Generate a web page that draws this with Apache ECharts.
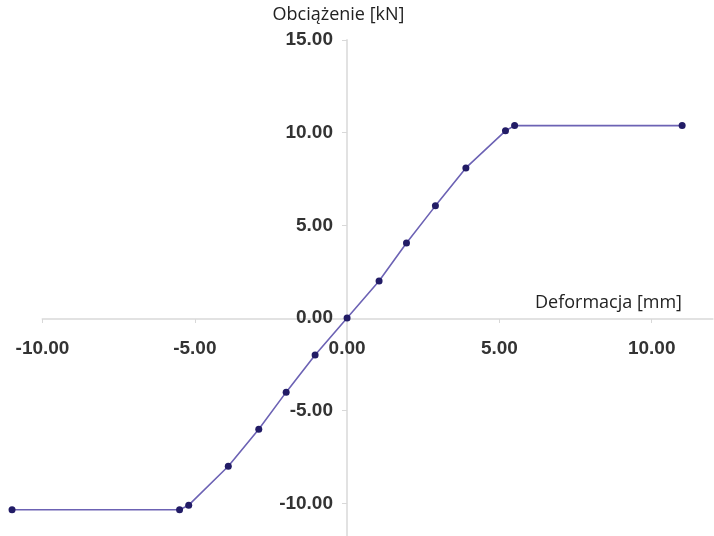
<!DOCTYPE html>
<html>
<head>
<meta charset="utf-8">
<script src="https://cdn.jsdelivr.net/npm/echarts@6/dist/echarts.min.js"></script>
<style>html,body{margin:0;padding:0;background:#fff}#c{width:714px;height:536px}</style>
</head>
<body>
<div id="c"></div>
<script>
const deformation = [-11, -5.5, -5.2, -3.9, -2.9, -2.0, -1.05, 0, 1.05, 1.95, 2.9, 3.9, 5.2, 5.5, 11];
const load = [-10.35, -10.35, -10.1, -8.0, -6.0, -4.0, -2.0, 0, 2.0, 4.05, 6.05, 8.1, 10.1, 10.38, 10.38];
const xTicks = [-10, -5, 0, 5, 10];
const yTicks = [-15, -10, -5, 0, 5, 10, 15];
const xName = 'Deformacja [mm]';
const yName = 'Obciążenie [kN]';

const chart = echarts.init(document.getElementById('c'));
const lblStyle = {fontFamily: 'Liberation Sans', fontSize: 19, color: '#333', fontWeight: 'bold'};
const PX = 30.46; // px per mm
const gLeft = 42.5, gRight = 1.4, gTop = 40, gBottom = -60;
chart.setOption({
  animation: false,
  grid: [
    {left: gLeft, right: gRight, top: gTop, bottom: gBottom, containLabel: false, outerBoundsMode: 'none'},
    {left: gLeft - 2 * PX, right: gRight, top: gTop, bottom: gBottom, containLabel: false, outerBoundsMode: 'none'}
  ],
  xAxis: [{
    gridIndex: 0, type: 'value', min: -10, max: 12, position: 'bottom', offset: -277,
    name: xName, nameLocation: 'end', nameGap: -30.6,
    nameTextStyle: {fontFamily: 'Open Sans', fontSize: 18, color: '#222', align: 'right', verticalAlign: 'bottom', padding: [0, 0, 7, 0]},
    axisLine: {onZero: false, lineStyle: {color: '#e2e2e2', width: 2}},
    axisTick: {show: true, length: 4, customValues: xTicks, lineStyle: {color: '#d8d8d8'}},
    axisLabel: Object.assign({customValues: xTicks, margin: 20, formatter: v => v.toFixed(2)}, lblStyle),
    splitLine: {show: false}
  }, {
    gridIndex: 1, type: 'value', min: -12, max: 12, show: false
  }],
  yAxis: [{
    gridIndex: 0, type: 'value', min: -15, max: 15, interval: 5, position: 'left', offset: -304.5,
    name: yName, nameLocation: 'end', nameGap: 16,
    nameTextStyle: {fontFamily: 'Open Sans', fontSize: 18, color: '#222', align: 'center', padding: [0, 17, 0, 0]},
    axisLine: {onZero: false, lineStyle: {color: '#e2e2e2', width: 2}},
    axisTick: {show: true, length: 5, customValues: yTicks, lineStyle: {color: '#d8d8d8'}},
    axisLabel: Object.assign({customValues: yTicks, margin: 14, formatter: v => v.toFixed(2)}, lblStyle),
    splitLine: {show: false}
  }, {
    gridIndex: 1, type: 'value', min: -15, max: 15, show: false
  }],
  series: [{
    type: 'line', xAxisIndex: 1, yAxisIndex: 1,
    data: deformation.map((x, i) => [x, load[i]]),
    clip: false,
    symbol: 'circle', symbolSize: 7,
    lineStyle: {color: '#6c62b4', width: 1.6},
    itemStyle: {color: '#221c66'}
  }]
});
</script>
</body>
</html>
